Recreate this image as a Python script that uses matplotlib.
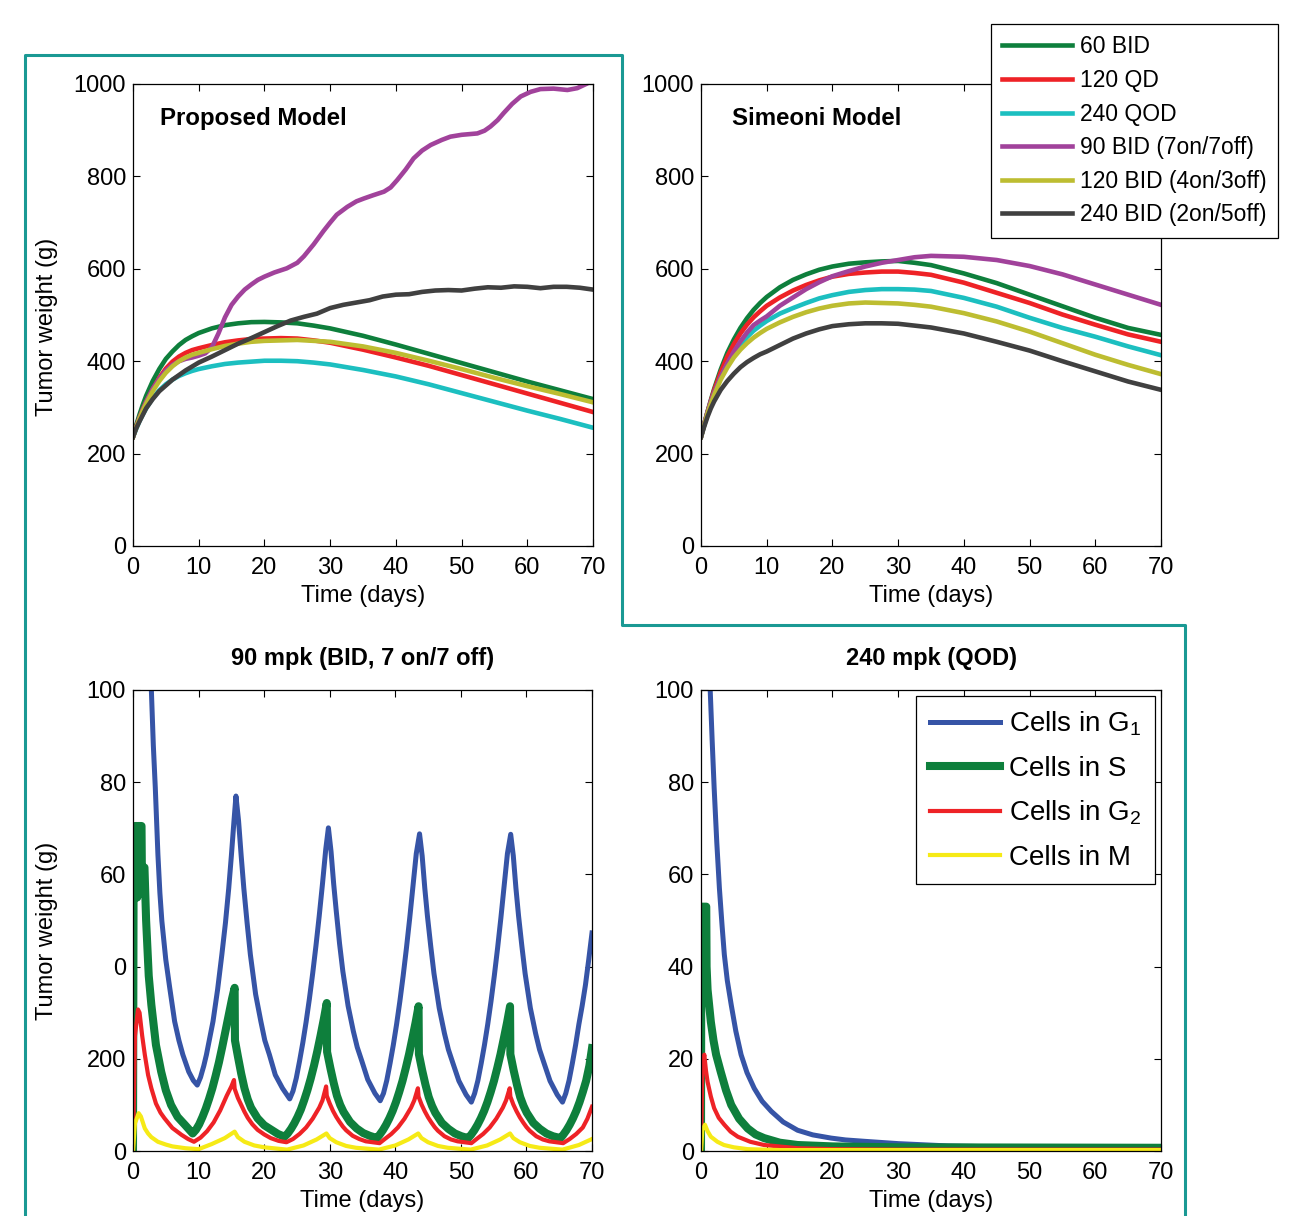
import matplotlib
matplotlib.use('Agg')
import matplotlib.pyplot as plt
from matplotlib.lines import Line2D

plt.rcParams['font.family'] = ['Liberation Sans', 'DejaVu Sans']
plt.rcParams['mathtext.fontset'] = 'custom'
plt.rcParams['mathtext.rm'] = 'Liberation Sans'
plt.rcParams['mathtext.it'] = 'Liberation Sans:italic'

# ---- colours ----
c_green = '#0e7f3c'
c_red = '#ee2226'
c_cyan = '#1cbfc0'
c_purple = '#a1429b'
c_olive = '#bdbd31'
c_dark = '#404040'
c_blue = '#3654a6'
c_yellow = '#f6ea16'
c_teal = '#1a9994'

regimen_labels = ['60 BID', '120 QD', '240 QOD', '90 BID (7on/7off)',
                  '120 BID (4on/3off)', '240 BID (2on/5off)']

# ---- proposed model (top left) ----
t_prop = [0, 0.5, 1, 1.5, 2, 3, 4, 5, 6, 7, 8, 9, 10, 12, 14, 16, 18, 20, 22.5, 25,
          27.5, 30, 35, 40, 45, 50, 55, 60, 65, 70]
prop_60bid = [236, 262, 285, 306, 325, 357, 383, 405, 421, 435, 446, 454, 461, 471, 478,
              482, 484.5, 485, 484, 482, 477, 471, 455, 436, 416, 396, 376, 356, 337, 318]
prop_120qd = [236, 258, 278, 296, 312, 340, 364, 384, 399, 410, 418, 424, 428, 435, 441,
              445, 448, 449, 450, 449, 445, 440, 425, 408, 390, 370, 350, 330, 310, 290]
prop_240qod = [236, 254, 271, 285, 298, 320, 337, 350, 360, 368, 374, 379, 383, 389, 394,
               397, 399, 401, 401, 400, 397, 393, 381, 367, 350, 331, 312, 293, 275, 256]
prop_120bid = [236, 257, 276, 293, 308, 335, 357, 375, 389, 400, 408, 414, 418, 426, 433,
               438, 442, 444, 445, 446, 444, 442, 432, 418, 401, 383, 364, 346, 329, 311]

t_prop_90 = [0, 0.5, 1, 2, 3, 4, 5, 6, 7, 8, 9, 10, 11, 12, 13, 14, 15, 16, 17, 18, 19,
             20, 21.5, 23.4, 25, 26, 27.5, 29, 30, 31, 32.6, 34, 35.1, 36.5, 38.2, 39.2,
             40.2, 41.5, 42.7, 44, 45.3, 47, 48.3, 50, 52.4, 53.5, 54.4, 55.5, 56.4,
             57.7, 59, 60.5, 62, 64, 66.1, 67.6, 69.1, 70]
prop_90bid = [236, 258, 278, 312, 340, 362, 380, 392, 400, 405, 408, 412, 417, 430, 460,
              495, 522, 540, 555, 566, 576, 583, 592, 601, 613, 627, 653, 682, 700, 717,
              734, 746, 752, 759, 767, 776, 792, 815, 839, 856, 868, 879, 886, 890, 893,
              899, 908, 922, 937, 957, 973, 983, 989, 990, 987, 991, 1001, 1010]

t_prop_240 = [0, 0.5, 1, 2, 3, 4, 6, 8, 10, 12, 14, 16, 18, 20, 22, 24, 26, 28, 30, 32,
              34, 36, 38, 40, 42, 44, 46, 48, 50, 52, 54, 56, 58, 60, 62, 64, 66, 68, 70]
prop_240bid = [236, 255, 270, 298, 318, 335, 360, 380, 397, 410, 424, 438, 450, 463, 476,
               488, 496, 503, 515, 522, 527, 532, 540, 544, 545, 550, 553, 554, 553, 557,
               560, 559, 562, 561, 558, 561, 561, 559, 555]

# ---- Simeoni model (top right) ----
t_sim = [0, 0.5, 1, 1.5, 2, 3, 4, 5, 6, 7, 8, 9, 10, 12, 14, 16, 18, 20, 22.5, 25,
         27.5, 30, 32.5, 35, 40, 45, 50, 55, 60, 65, 70]
sim_60bid = [236, 265, 291, 316, 340, 382, 418, 447, 472, 493, 511, 526, 539, 560, 576,
             588, 598, 605, 611, 614, 616, 617, 613, 608, 590, 569, 544, 519, 494, 472, 457]
sim_120qd = [236, 264, 290, 314, 337, 376, 410, 437, 460, 479, 495, 508, 520, 538, 553,
             565, 575, 583, 589, 592, 594, 594, 591, 587, 570, 548, 526, 501, 479, 458, 442]
sim_240qod = [236, 262, 288, 310, 330, 365, 394, 417, 436, 452, 466, 477, 487, 503, 515,
              526, 536, 543, 550, 554, 556, 556, 555, 552, 537, 518, 494, 472, 453, 432, 413]
sim_90bid = [236, 264, 290, 312, 332, 366, 395, 421, 443, 462, 478, 488, 497, 520, 538,
             556, 571, 584, 595, 605, 613, 619, 625, 628, 626, 619, 606, 588, 566, 544, 522]
sim_120bid = [236, 262, 287, 308, 327, 360, 386, 408, 425, 439, 451, 461, 470, 484, 496,
              506, 514, 520, 525, 527, 526, 525, 522, 518, 504, 486, 464, 439, 414, 392, 372]
sim_240bid = [236, 259, 280, 298, 313, 338, 357, 373, 387, 398, 407, 415, 421, 435, 449,
              460, 469, 476, 480, 482, 482, 481, 477, 473, 460, 442, 423, 400, 378, 356, 338]

# ---- 90 mpk BID 7on/7off cell cycle (bottom left) ----
t_bl_g1 = [2.5, 2.8, 3.1, 3.4, 3.8, 4.1, 4.4, 5.0, 5.6, 6.35, 7.0, 7.6, 8.5, 9.2, 9.8,
           10.3, 10.8, 11.2, 11.7, 12.2, 12.9, 13.55, 14.1, 14.6, 15.0, 15.4, 15.7,
           16.1, 16.5, 16.9, 17.4, 17.9, 18.7, 19.5, 20.1, 20.8, 21.7, 22.8, 23.9,
           24.4, 24.9, 25.4, 25.9, 26.4, 26.9, 27.4, 27.9, 28.4, 28.9, 29.4, 29.8,
           30.2, 30.6, 31.0, 31.5, 32.0, 32.8, 33.6, 34.2, 34.9, 35.8, 36.9, 37.7,
           38.2, 38.7, 39.2, 39.7, 40.2, 40.7, 41.2, 41.7, 42.2, 42.7, 43.2, 43.7,
           44.1, 44.5, 44.9, 45.4, 45.9, 46.7, 47.5, 48.1, 48.8, 49.7, 50.8, 51.6,
           52.1, 52.6, 53.1, 53.6, 54.1, 54.6, 55.1, 55.6, 56.1, 56.6, 57.1, 57.6,
           58.0, 58.4, 58.8, 59.3, 59.8, 60.6, 61.4, 62.0, 62.7, 63.6, 64.7, 65.5,
           66.0, 66.5, 67.0, 67.5, 68.0, 68.5, 69.0, 69.5, 70.0]
bl_g1 = [108, 100, 88, 78.8, 64.3, 56, 49.9, 41.5, 35.4, 28.1, 24, 20.9, 17.2, 15.3, 14.3,
         16, 18.5, 20.9, 24.5, 28.1, 35, 42.6, 49.5, 57, 64, 71.6, 77,
         71.6, 64, 57, 49.5, 42.6, 34, 28.1, 24, 20.9, 16.5, 13.6, 11.3,
         13, 15.8, 19.5, 23.5, 28, 33, 38.5, 44.5, 51, 58, 65.5, 70.1,
         65, 58, 52, 45, 39, 31.5, 26, 22.5, 19.5, 15.5, 12.5, 10.9,
         12.5, 15.3, 19, 23, 27.5, 32.5, 38, 44, 50.5, 57.5, 64.5, 68.8,
         64, 57, 51, 44.5, 38.5, 31, 25.5, 22, 19, 15.2, 12.2, 10.6,
         12.5, 15.3, 19, 23, 27.5, 32.5, 38, 44, 50.5, 57.5, 64.5, 68.7,
         64, 57, 51, 44.5, 38.5, 31, 25.5, 22, 19, 15.2, 12.2, 10.6,
         12.5, 15.3, 19, 23, 27.5, 31.5, 36, 41.5, 47.3]

t_bl_s = [0, 0.1, 0.3, 0.6, 0.65, 0.75, 1.3, 1.35, 1.75, 2.0, 2.4, 2.8, 3.5, 4.3, 5.0,
          5.8, 6.8, 7.9, 9.1,
          9.6, 10.1, 10.6, 11.1, 11.6, 12.1, 12.6, 13.1, 13.6, 14.1, 14.6, 15.1, 15.5,
          15.55, 16.0, 16.5, 17.0, 17.5, 18.0, 19.0, 20.0, 21.1, 22.1, 23.1,
          23.6, 24.1, 24.6, 25.1, 25.6, 26.1, 26.6, 27.1, 27.6, 28.1, 28.6, 29.1, 29.55,
          29.6, 30.1, 30.6, 31.1, 31.6, 32.1, 33.1, 34.1, 35.1, 36.1, 37.2,
          37.6, 38.1, 38.6, 39.1, 39.6, 40.1, 40.6, 41.1, 41.6, 42.1, 42.6, 43.1, 43.55,
          43.6, 44.1, 44.6, 45.1, 45.6, 46.1, 47.1, 48.1, 49.1, 50.1, 51.1,
          51.55, 52.05, 52.55, 53.05, 53.55, 54.05, 54.55, 55.05, 55.55, 56.05, 56.55,
          57.05, 57.5,
          57.55, 58.05, 58.55, 59.05, 59.55, 60.05, 61.05, 62.05, 63.05, 64.05, 65.2,
          65.6, 66.1, 66.6, 67.1, 67.6, 68.1, 68.6, 69.1, 69.6, 70.0]
bl_s = [0, 66, 70.5, 70.5, 55, 70.5, 70.5, 61.5, 61.5, 50, 38, 31.7, 23, 17.2, 13.2,
        10, 7.4, 5.7, 3.8,
        4.6, 5.8, 7.4, 9.2, 11.3, 13.6, 16.3, 19.2, 22.5, 26, 29.5, 33, 35.4,
        24, 20.5, 16.8, 13.6, 11.2, 9.4, 7.1, 5.6, 4.6, 3.7, 3.1,
        3.8, 4.8, 6.0, 7.4, 9.0, 11, 13.2, 15.7, 18.5, 21.6, 25, 28.6, 32.1,
        21.5, 18, 14.8, 12, 10, 8.5, 6.3, 4.9, 3.9, 3.3, 2.8,
        3.5, 4.5, 5.7, 7.1, 8.7, 10.6, 12.8, 15.2, 18, 21, 24.4, 27.9, 31.4,
        21, 17.5, 14.4, 11.7, 9.8, 8.3, 6.1, 4.8, 3.8, 3.2, 2.8,
        3.5, 4.5, 5.7, 7.1, 8.7, 10.6, 12.8, 15.2, 18, 21, 24.4,
        27.9, 31.4,
        21, 17.5, 14.4, 11.7, 9.8, 8.3, 6.1, 4.8, 3.8, 3.2, 2.8,
        3.5, 4.5, 5.7, 7.1, 8.7, 10.6, 12.8, 15.2, 18.5, 22.3]

t_bl_g2 = [0, 0.3, 0.76, 1.0, 1.4, 1.8, 2.3, 2.8, 3.5, 4.2, 4.8, 6.0, 7.4, 8.4, 9.3,
           10.3, 11.3, 12.3, 13.3, 14.3, 15.0, 15.4, 15.5, 16.0, 16.5, 17.0, 17.5, 18.2,
           19.0, 20.0, 21.0, 22.2, 23.4,
           24.4, 25.4, 26.4, 27.4, 28.4, 28.9, 29.45, 29.55, 30.0, 30.5, 31.0, 31.5,
           32.0, 32.5, 33.5, 34.5, 35.5, 37.6,
           38.4, 39.4, 40.4, 41.4, 42.4, 42.9, 43.45, 43.55, 44.0, 44.5, 45.0, 45.5,
           46.0, 46.5, 47.5, 48.5, 49.5, 51.6,
           52.4, 53.4, 54.4, 55.4, 56.4, 56.9, 57.45, 57.55, 58.0, 58.5, 59.0, 59.5,
           60.0, 60.5, 61.5, 62.5, 63.5, 65.6,
           66.6, 67.6, 68.6, 69.3, 70.0]
bl_g2 = [0, 25, 30.7, 30, 25, 20.9, 16.5, 13.6, 10.3, 8.3, 7.1, 5.0, 3.5, 2.6, 2.0,
         2.9, 4.3, 6.2, 8.8, 12, 14, 15.4, 13.5, 11.5, 10, 8.5, 7.2, 5.8,
         4.6, 3.6, 2.8, 2.2, 1.9,
         2.6, 3.7, 5.1, 7, 9.4, 11, 14, 12, 10.3, 8.7, 7.4, 6.3,
         5.3, 4.5, 3.3, 2.6, 2.1, 1.7,
         2.6, 3.7, 5.1, 7, 9.4, 11, 13.6, 11.8, 10.1, 8.6, 7.3, 6.2,
         5.2, 4.4, 3.2, 2.5, 2.1, 1.7,
         2.6, 3.7, 5.1, 7, 9.4, 11, 13.6, 11.8, 10.1, 8.6, 7.3, 6.2,
         5.2, 4.4, 3.2, 2.5, 2.1, 1.7,
         2.6, 3.7, 5.1, 7.0, 9.6]

t_bl_m = [0, 0.3, 0.86, 1.2, 1.8, 2.3, 2.8, 3.8, 5, 6, 8, 10, 12, 14, 15.5, 16, 17, 18.5,
          20, 23.5,
          26, 28, 29.5, 30, 31, 32.5, 34, 37.5,
          40, 42, 43.5, 44, 45, 46.5, 48, 51.5,
          54, 56, 57.5, 58, 59, 60.5, 62, 65.5,
          68, 70]
bl_m = [0, 6, 8.2, 7.5, 4.9, 3.8, 3.0, 2.0, 1.4, 1.0, 0.6, 0.4, 1.5, 2.8, 4.2, 3.0, 2.0,
        1.2, 0.8, 0.3,
        1.2, 2.5, 3.8, 2.8, 1.9, 1.1, 0.7, 0.3,
        1.2, 2.5, 3.8, 2.8, 1.9, 1.1, 0.7, 0.3,
        1.2, 2.5, 3.8, 2.8, 1.9, 1.1, 0.7, 0.3,
        1.3, 2.6]
bl_yticklabels = ['0', '200', '0', '60', '80', '100']

# ---- 240 mpk QOD cell cycle (bottom right) ----
t_br_g1 = [1.2, 1.4, 1.7, 2.0, 2.4, 2.8, 3.2, 3.55, 4.0, 4.6, 5.3, 6.1, 7.0, 8.1, 9.3,
           10.7, 12.5, 14.7, 17, 19.8, 22, 24.9, 30, 37.6, 45, 55, 70]
br_g1 = [110, 100, 89, 78.8, 67, 57, 49, 42.6, 37, 31.7, 26, 20.9, 17, 13.6, 10.8,
         8.6, 6.3, 4.5, 3.5, 2.8, 2.4, 2.1, 1.6, 1.1, 0.9, 0.8, 0.7]
t_br_s = [0, 0.05, 0.8, 0.85, 1.0, 1.5, 1.9, 2.3, 3.0, 3.8, 4.6, 5.8, 7.1, 8.3, 9.6,
          12, 14.7, 20, 30, 70]
br_s = [0, 53, 53, 40, 35, 28, 24, 20.9, 17.2, 13.2, 10, 7, 4.9, 3.6, 2.8,
        1.8, 1.3, 1.0, 0.8, 0.7]
t_br_g2 = [0, 0.2, 0.5, 0.75, 1.0, 1.5, 2.0, 2.7, 3.55, 4.5, 5.6, 7.5, 9.6, 14.7, 20,
           30, 70]
br_g2 = [0, 18, 20.9, 17.5, 15, 11.8, 9.3, 7.2, 5.7, 4.2, 3.1, 2.0, 1.3, 0.6, 0.4,
         0.3, 0.3]
t_br_m = [0, 0.2, 0.6, 1.0, 1.5, 2.5, 3.5, 5, 7.1, 12, 70]
br_m = [0, 4.5, 5.7, 4.3, 3.1, 2.0, 1.3, 0.8, 0.4, 0.2, 0.2]

W, H = 1293, 1216
fig = plt.figure(figsize=(W / 100, H / 100), dpi=100)


def px_axes(x0, y0, x1, y1):
    return fig.add_axes([x0 / W, 1 - y1 / H, (x1 - x0) / W, (y1 - y0) / H])


def style(ax, ymax, ystep):
    ax.set_xlim(0, 70)
    ax.set_ylim(0, ymax)
    ax.set_xticks(range(0, 71, 10))
    ax.set_yticks(range(0, ymax + 1, ystep))
    ax.tick_params(direction='in', top=True, right=True, length=5, width=0.8,
                   labelsize=17, pad=5)
    ax.tick_params(axis='x', pad=8)
    for s in ax.spines.values():
        s.set_linewidth(0.9)
    ax.set_xlabel('Time (days)', fontsize=17, labelpad=4.5)


ax_tl = px_axes(133, 84, 593, 546)
ax_tr = px_axes(701, 84, 1161, 546)
ax_bl = px_axes(133, 690, 592, 1151)
ax_br = px_axes(701, 690, 1161, 1151)

lw = 3.3
ax_tl.plot(t_prop, prop_60bid, color=c_green, lw=lw)
ax_tl.plot(t_prop, prop_120qd, color=c_red, lw=lw)
ax_tl.plot(t_prop, prop_240qod, color=c_cyan, lw=lw)
ax_tl.plot(t_prop_90, prop_90bid, color=c_purple, lw=lw)
ax_tl.plot(t_prop, prop_120bid, color=c_olive, lw=lw)
ax_tl.plot(t_prop_240, prop_240bid, color=c_dark, lw=lw)
style(ax_tl, 1000, 200)
ax_tl.text(0.059, 0.926, 'Proposed Model', transform=ax_tl.transAxes,
           fontsize=17.3, fontweight='bold', va='center')
ax_tl.set_ylabel('Tumor weight (g)', fontsize=17)
ax_tl.yaxis.set_label_coords(-0.163, 0.474)

handles = []
for y, c in zip([sim_60bid, sim_120qd, sim_240qod, sim_90bid, sim_120bid, sim_240bid],
                [c_green, c_red, c_cyan, c_purple, c_olive, c_dark]):
    ln, = ax_tr.plot(t_sim, y, color=c, lw=lw)
    handles.append(ln)
style(ax_tr, 1000, 200)
ax_tr.text(0.067, 0.926, 'Simeoni Model', transform=ax_tr.transAxes,
           fontsize=17.3, fontweight='bold', va='center')

leg = fig.legend(handles, regimen_labels, loc='upper right',
                 bbox_to_anchor=(1278 / W, 1 - 24 / H), fontsize=16.5,
                 fancybox=False, edgecolor='black', framealpha=1,
                 borderaxespad=0, handlelength=3.05, handletextpad=0.35,
                 labelspacing=0.46, borderpad=0.5)
leg.get_frame().set_linewidth(0.9)

ax_bl.plot(t_bl_g1, bl_g1, color=c_blue, lw=3.6)
ax_bl.plot(t_bl_s, bl_s, color=c_green, lw=5.8)
ax_bl.plot(t_bl_g2, bl_g2, color=c_red, lw=3.0)
ax_bl.plot(t_bl_m, bl_m, color=c_yellow, lw=3.0)
style(ax_bl, 100, 20)
ax_bl.set_yticklabels(bl_yticklabels)
ax_bl.set_ylabel('Tumor weight (g)', fontsize=17)
ax_bl.yaxis.set_label_coords(-0.163, 0.477)
ax_bl.set_title('90 mpk (BID, 7 on/7 off)', fontsize=17, fontweight='bold', pad=18)

h1, = ax_br.plot(t_br_g1, br_g1, color=c_blue, lw=3.6)
h2, = ax_br.plot(t_br_s, br_s, color=c_green, lw=5.8)
h3, = ax_br.plot(t_br_g2, br_g2, color=c_red, lw=3.0)
h4, = ax_br.plot(t_br_m, br_m, color=c_yellow, lw=3.0)
style(ax_br, 100, 20)
ax_br.set_title('240 mpk (QOD)', fontsize=17, fontweight='bold', pad=18)
leg2 = ax_br.legend([h1, h2, h3, h4],
                    ['Cells in G$_{1}$', 'Cells in S', 'Cells in G$_{2}$', 'Cells in M'],
                    loc='upper right', bbox_to_anchor=(1155 / W, 1 - 696 / H),
                    bbox_transform=fig.transFigure, fontsize=20, fancybox=False,
                    edgecolor='black', framealpha=1, borderaxespad=0,
                    handlelength=2.5, handletextpad=0.32, labelspacing=0.62,
                    borderpad=0.5)
leg2.get_frame().set_linewidth(0.9)

# teal frame around the model comparison panels
fx = [25, 25, 622, 622, 1185, 1185]
fy = [1220, 55, 55, 625, 625, 1220]
fig.add_artist(Line2D([x / W for x in fx], [1 - y / H for y in fy],
                      color=c_teal, lw=2.2, transform=fig.transFigure, zorder=0))

fig.savefig('out.png', dpi=100)
